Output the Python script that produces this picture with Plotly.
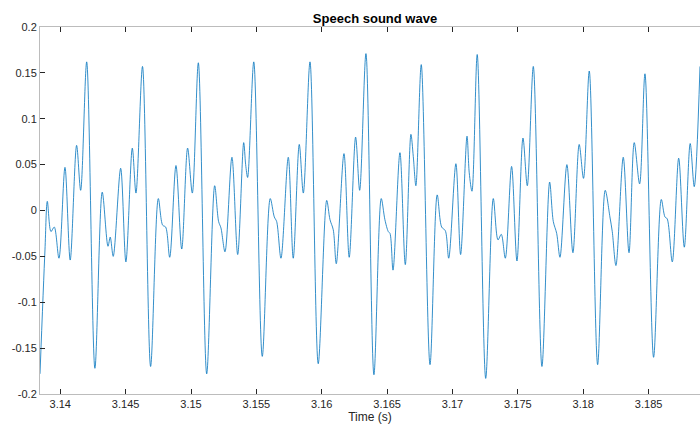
import plotly.graph_objects as go

# Sample times (s) and amplitudes of the speech waveform (turning points)
time_s = [
    3.13845, 3.13883, 3.13901, 3.13929, 3.13954, 3.13990, 3.14036, 3.14076,
    3.14125, 3.14156, 3.14202, 3.14265, 3.14321, 3.14365, 3.14382, 3.14405,
    3.14462, 3.14502, 3.14551, 3.14579, 3.14629,
    3.14691, 3.14750, 3.14783, 3.14806, 3.14837, 3.14885, 3.14929, 3.14974,
    3.15010, 3.15056, 3.15120, 3.15181, 3.15211, 3.15229, 3.15260, 3.15313,
    3.15357, 3.15403, 3.15418, 3.15433, 3.15480,
    3.15545, 3.15606, 3.15637, 3.15655, 3.15688, 3.15744, 3.15782, 3.15828,
    3.15859, 3.15910, 3.15973, 3.16038, 3.16063, 3.16088, 3.16111, 3.16170,
    3.16210, 3.16259, 3.16290, 3.16338,
    3.16399, 3.16455, 3.16483, 3.16509, 3.16522, 3.16545, 3.16598, 3.16639,
    3.16682, 3.16700, 3.16720, 3.16761, 3.16828, 3.16883, 3.16917, 3.16945,
    3.16971, 3.17026, 3.17062, 3.17111, 3.17128, 3.17149, 3.17189,
    3.17254, 3.17312, 3.17348, 3.17373, 3.17404, 3.17452, 3.17493, 3.17539,
    3.17572, 3.17618, 3.17684, 3.17743, 3.17771, 3.17797, 3.17822, 3.17875,
    3.17921, 3.17969, 3.18002, 3.18046,
    3.18110, 3.18168, 3.18204, 3.18222, 3.18250, 3.18306, 3.18350, 3.18390,
    3.18431, 3.18472, 3.18538, 3.18597, 3.18625, 3.18642, 3.18681, 3.18730,
    3.18773, 3.18818, 3.18849, 3.18893,
]
amplitude = [
    -0.178, -0.043, 0.010, -0.023, -0.018, -0.052, 0.047, -0.054,
    0.071, 0.022, 0.162, -0.172, 0.020, -0.039, -0.029, -0.050,
    0.046, -0.056, 0.068, 0.019, 0.157,
    -0.170, 0.013, -0.016, -0.018, -0.051, 0.049, -0.042, 0.068,
    0.019, 0.161, -0.178, 0.027, -0.012, -0.019, -0.045, 0.058,
    -0.048, 0.074, 0.050, 0.036, 0.162,
    -0.159, 0.013, -0.007, -0.012, -0.052, 0.058, -0.052, 0.072,
    0.019, 0.162, -0.167, 0.011, -0.010, -0.021, -0.058, 0.062,
    -0.051, 0.080, 0.022, 0.171,
    -0.179, 0.013, -0.010, -0.023, -0.025, -0.065, 0.063, -0.059,
    0.083, 0.059, 0.027, 0.159, -0.168, 0.017, -0.018, -0.022,
    -0.052, 0.051, -0.048, 0.081, 0.041, 0.021, 0.170,
    -0.183, 0.013, -0.032, -0.026, -0.052, 0.048, -0.055, 0.079,
    0.027, 0.157, -0.170, 0.031, -0.012, -0.025, -0.051, 0.050,
    -0.046, 0.072, 0.035, 0.152,
    -0.168, 0.022, -0.007, -0.023, -0.060, 0.058, -0.046, 0.074,
    0.029, 0.149, -0.160, 0.012, -0.007, -0.009, -0.056, 0.057,
    -0.040, 0.073, 0.026, 0.157,
]

x_ticks = [3.14, 3.145, 3.15, 3.155, 3.16, 3.165, 3.17, 3.175, 3.18, 3.185]
x_labels = ["3.14", "3.145", "3.15", "3.155", "3.16", "3.165", "3.17", "3.175", "3.18", "3.185"]
y_ticks = [-0.2, -0.15, -0.1, -0.05, 0, 0.05, 0.1, 0.15, 0.2]
y_labels = ["-0.2", "-0.15", "-0.1", "-0.05", "0", "0.05", "0.1", "0.15", "0.2"]

FONT = "Liberation Sans, Arial, sans-serif"
AXIS_GREY = "#bcbcbc"
TEXT = "#262626"

fig = go.Figure(
    go.Scatter(
        x=time_s,
        y=amplitude,
        mode="lines",
        line=dict(color="#0072BD", width=0.8, shape="spline", smoothing=0.9),
        hoverinfo="x+y",
    )
)

axis_common = dict(
    showline=True,
    linecolor=AXIS_GREY,
    linewidth=1,
    ticks="inside",
    ticklen=5,
    tickwidth=1,
    tickcolor=TEXT,
    showgrid=False,
    zeroline=False,
    tickfont=dict(family=FONT, size=11, color=TEXT),
)

fig.update_layout(
    width=700,
    height=424,
    margin=dict(l=40, r=0, t=27, b=30),
    paper_bgcolor="white",
    plot_bgcolor="white",
    showlegend=False,
    title=dict(
        text="<b>Speech sound wave</b>",
        font=dict(family=FONT, size=13, color="black"),
        xref="container",
        x=375 / 700,
        xanchor="center",
        yref="container",
        y=1 - 18 / 424,
        yanchor="middle",
    ),
    xaxis=dict(
        range=[time_s[0], time_s[-1]],
        tickvals=x_ticks,
        ticktext=x_labels,
        mirror="ticks",
        title=dict(text="Time (s)", font=dict(family=FONT, size=12, color=TEXT), standoff=4),
        **axis_common,
    ),
    yaxis=dict(
        range=[-0.2, 0.2],
        tickvals=y_ticks,
        ticktext=y_labels,
        mirror=False,
        **axis_common,
    ),
)

fig.write_html("out.html")
